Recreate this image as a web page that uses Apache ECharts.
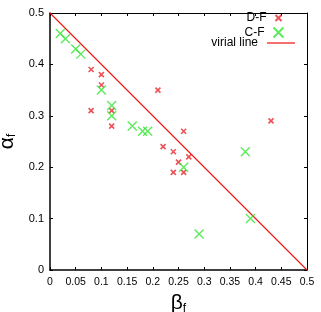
<!DOCTYPE html>
<html><head><meta charset="utf-8">
<script src="https://cdn.jsdelivr.net/npm/echarts@6/dist/echarts.min.js"></script>
<style>html,body{margin:0;padding:0;background:#fff}#c{width:321px;height:312px}</style>
</head><body><div id="c"></div>
<script>
const dfBeta  = [0.08,0.10,0.10,0.08,0.12,0.12,0.21,0.26,0.22,0.24,0.27,0.25,0.24,0.26,0.43];
const dfAlpha = [0.39,0.38,0.36,0.31,0.31,0.28,0.35,0.27,0.24,0.23,0.22,0.21,0.19,0.19,0.29];
const cfBeta  = [0.02,0.03,0.05,0.06,0.10,0.12,0.12,0.16,0.18,0.19,0.26,0.38,0.29,0.39];
const cfAlpha = [0.46,0.45,0.43,0.42,0.35,0.32,0.30,0.28,0.27,0.27,0.20,0.23,0.07,0.10];
const virialBeta  = [0, 0.5];
const virialAlpha = [0.5, 0];
const seriesNames = ['D-F','C-F','virial line'];

const xPath = 'path://M0,0L10,10M10,0L0,10';
const zip = (a,b)=>a.map((v,i)=>[v,b[i]]);
const font = 'Liberation Sans, Arial, sans-serif';
const lineRed = '#f01010';

const chart = echarts.init(document.getElementById('c'), null, {renderer:'canvas'});
const axisCommon = {
  min:0, max:0.5, type:'value',
  splitLine:{show:false},
  axisLine:{show:true, onZero:false, lineStyle:{color:'#000', width:1.5}},
  axisTick:{show:true, inside:true, length:3, lineStyle:{color:'#000'}},
};
function legend(item, top, right, iconW, iconH){
  return {data:[item], right:right, top:top, orient:'vertical', align:'right',
    itemWidth:iconW, itemHeight:iconH, itemGap:2, padding:0, selectedMode:false,
    textStyle:{fontFamily:font, fontSize:12, color:'#000', padding:[0,4,0,0]}};
}
chart.setOption({
  animation:false,
  backgroundColor:'#fff',
  color:['#e8262b', '#33e633', lineRed],
  grid:{left:50, right:14, top:13, bottom:42, containLabel:false, outerBoundsMode:'none'},
  legend:[
    legend(seriesNames[0], 12, 37, 6, 6),
    legend(seriesNames[1], 25, 35, 10, 10),
    legend({name:seriesNames[2], icon:'rect'}, 37, 26, 28, 1.2)
  ],
  xAxis:[
    {...axisCommon, interval:0.05, position:'bottom',
     axisLabel:{color:'#000', fontFamily:font, fontSize:10.5, margin:7},
     name:'{a|β}{s|f}', nameLocation:'middle', nameGap:15,
     nameTextStyle:{rich:{a:{fontFamily:font, fontSize:21, color:'#000'}, s:{fontFamily:font, fontSize:12, color:'#000', padding:[10,0,0,0]}}}},
    {...axisCommon, interval:0.05, position:'top', axisLabel:{show:false},
     axisLine:{show:true, onZero:false, lineStyle:{color:'#000', width:1}}}
  ],
  yAxis:[
    {...axisCommon, interval:0.1, position:'left',
     axisLabel:{color:'#000', fontFamily:font, fontSize:11, margin:6},
     name:'{a|α}{s|f}', nameLocation:'middle', nameGap:21, nameRotate:90,
     nameTextStyle:{rich:{a:{fontFamily:font, fontSize:21, color:'#000'}, s:{fontFamily:font, fontSize:12, color:'#000', padding:[10,0,0,0]}}}},
    {...axisCommon, interval:0.1, position:'right', axisLabel:{show:false},
     axisLine:{show:true, onZero:false, lineStyle:{color:'#000', width:1}}}
  ],
  series:[
    {name:seriesNames[0], type:'scatter', data:zip(dfBeta, dfAlpha), symbol:xPath, symbolSize:5,
     itemStyle:{color:'none', borderColor:'#e8262b', borderWidth:1.6}, z:3},
    {name:seriesNames[1], type:'scatter', data:zip(cfBeta, cfAlpha), symbol:xPath, symbolSize:9,
     itemStyle:{color:'none', borderColor:'#33e633', borderWidth:1.4}, z:3},
    {name:seriesNames[2], type:'line', data:zip(virialBeta, virialAlpha), symbol:'none', showSymbol:false,
     lineStyle:{color:lineRed, width:1.1, opacity:1}, itemStyle:{color:lineRed}, z:2}
  ]
});
</script></body></html>
